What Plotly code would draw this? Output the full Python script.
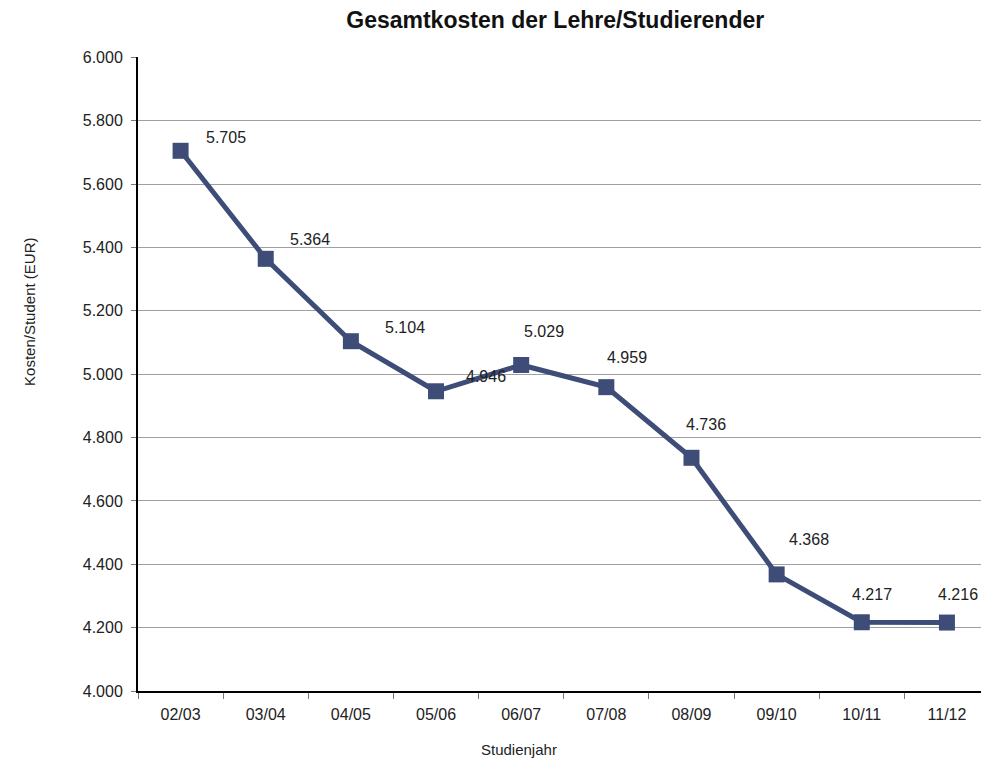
import plotly.graph_objects as go

# Studienjahre und Kosten pro Studierendem (EUR)
years = ['02/03', '03/04', '04/05', '05/06', '06/07', '07/08', '08/09', '09/10', '10/11', '11/12']
costs = [5705, 5364, 5104, 4946, 5029, 4959, 4736, 4368, 4217, 4216]
cost_labels = ['5.705', '5.364', '5.104', '4.946', '5.029', '4.959', '4.736', '4.368', '4.217', '4.216']

y_ticks = [4000, 4200, 4400, 4600, 4800, 5000, 5200, 5400, 5600, 5800, 6000]
y_tick_labels = ['4.000', '4.200', '4.400', '4.600', '4.800', '5.000', '5.200', '5.400', '5.600', '5.800', '6.000']

# label offsets in pixels (dx, dy up), roughly as placed in the original
label_shift = [(45, 13), (44, 19), (54, 14), (50, 15), (23, 33),
               (21, 30), (15, 33), (32, 35), (10, 28), (11, 28)]

line_color = '#3d4d77'
text_color = '#222222'
font_family = 'Liberation Sans, Arial, sans-serif'

fig = go.Figure()

fig.add_trace(go.Scatter(
    x=years,
    y=costs,
    mode='lines+markers',
    line=dict(color=line_color, width=5),
    marker=dict(symbol='square', size=16, color=line_color),
    showlegend=False
))

for year, val, lab, (dx, dy) in zip(years, costs, cost_labels, label_shift):
    fig.add_annotation(
        x=year, y=val, text=lab, showarrow=False,
        xshift=dx, yshift=dy,
        font=dict(size=16, color=text_color, family=font_family)
    )

# axis titles as annotations to match original placement
fig.add_annotation(
    xref='paper', yref='paper', x=0.4523, y=-0.1088,
    text='Studienjahr', showarrow=False,
    font=dict(size=15, color=text_color, family=font_family)
)
fig.add_annotation(
    xref='paper', yref='paper', x=-0.1405, y=0.598,
    text='Kosten/Student (EUR)', textangle=-90, showarrow=False,
    font=dict(size=15, color=text_color, family=font_family)
)

fig.update_layout(
    width=981,
    height=772,
    margin=dict(l=137.5, r=0, t=57, b=81),
    plot_bgcolor='white',
    paper_bgcolor='white',
    font=dict(family=font_family, size=16, color=text_color),
    title=dict(
        text='<b>Gesamtkosten der Lehre/Studierender</b>',
        x=0.566, xanchor='center', y=0.974, yanchor='middle',
        font=dict(size=23, color='#111111', family=font_family)
    ),
    xaxis=dict(
        type='category',
        range=[-0.5, 9.4],
        showgrid=False,
        showline=True, linecolor='black', linewidth=2,
        ticks='outside', tickson='boundaries', ticklen=6, tickcolor='#777777',
        ticklabelstandoff=8,
        tickfont=dict(size=16)
    ),
    yaxis=dict(
        range=[4000, 6001],
        tickvals=y_ticks,
        ticktext=y_tick_labels,
        showgrid=True, gridcolor='#a0a0a0', gridwidth=1,
        showline=True, linecolor='black', linewidth=2,
        ticks='outside', ticklen=5, tickcolor='#777777',
        ticklabelstandoff=5,
        tickfont=dict(size=16),
        zeroline=False
    )
)

# drop the default page margin so the figure sits at the window's top-left
fig.write_html("out.html", config={'displayModeBar': False},
               post_script="document.body.style.margin='0';")
